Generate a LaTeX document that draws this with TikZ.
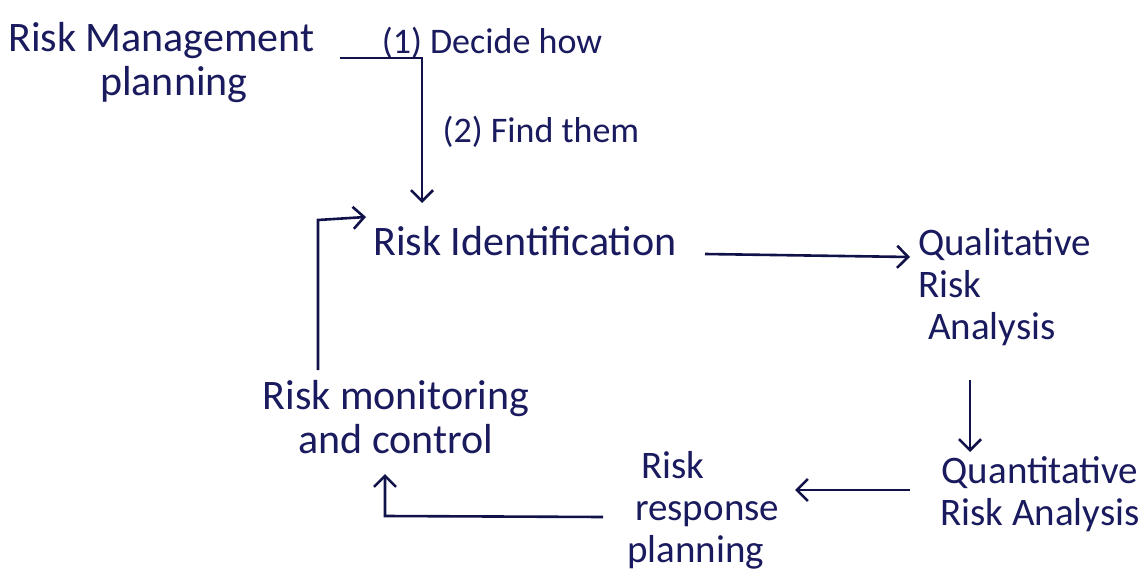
\documentclass[tikz,border=0pt]{standalone}
\usepackage{fontspec}
\setmainfont{Carlito}
\usetikzlibrary{arrows.meta}
\definecolor{ink}{HTML}{1A1A5E}
\definecolor{pen}{HTML}{12124A}
\tikzset{
  lbl/.style={text=ink, inner sep=0pt, font=\fontsize{42}{44}\selectfont},
  mid/.style={text=ink, inner sep=0pt, font=\fontsize{39}{42}\selectfont},
  small/.style={text=ink, inner sep=0pt, font=\fontsize{36}{40}\selectfont},
  arr/.style={draw=pen, line width=2.6pt, -{Straight Barb[length=11pt,width=22pt,line width=2.6pt]}},
}
\begin{document}
\begin{tikzpicture}[x=1pt,y=-1pt]
\useasboundingbox[fill=white] (0,0) rectangle (1146,578);
% nodes
\node[lbl, align=left, anchor=north west] (rmp) at (8,22) {Risk Management\\\hspace{92pt}planning};
\node[small] (dec) at (492,43) {(1) Decide how};
\node[small] (fnd) at (541,132) {(2) Find them};
\node[lbl] (ri) at (525,241) {Risk Identification};
\node[mid, align=left, anchor=north west] (qra) at (918,228) {Qualitative\\Risk\\\hspace{10pt}Analysis};
\node[mid, align=center] (qta) at (1040,494) {Quantitative\\Risk Analysis};
\node[mid, align=left, anchor=north west] (rrp) at (627,451) {\hspace{14pt}Risk\\\hspace{8pt}response\\planning};
\node[lbl, align=center] (rmc) at (396,417) {Risk monitoring\\and control};
% coordinates
\coordinate (a0) at (340,58);
\coordinate (k1) at (422,58);
\coordinate (a1) at (422,203);
\coordinate (b0) at (705,254);
\coordinate (b1) at (910,257);
\coordinate (c0) at (970,380);
\coordinate (c1) at (970,452);
\coordinate (d0) at (910,490);
\coordinate (d1) at (795,490);
\coordinate (e0) at (603,517);
\coordinate (k3) at (385,516);
\coordinate (e1) at (385,474);
\coordinate (f0) at (318,370);
\coordinate (k2) at (318,220);
\coordinate (f1) at (366,217);
% connectors
\draw[arr] (a0) -- (k1) -- (a1);
\draw[arr] (b0) -- (b1);
\draw[arr] (c0) -- (c1);
\draw[arr] (d0) -- (d1);
\draw[arr] (e0) -- (k3) -- (e1);
\draw[arr] (f0) -- (k2) -- (f1);
\end{tikzpicture}
\end{document}
